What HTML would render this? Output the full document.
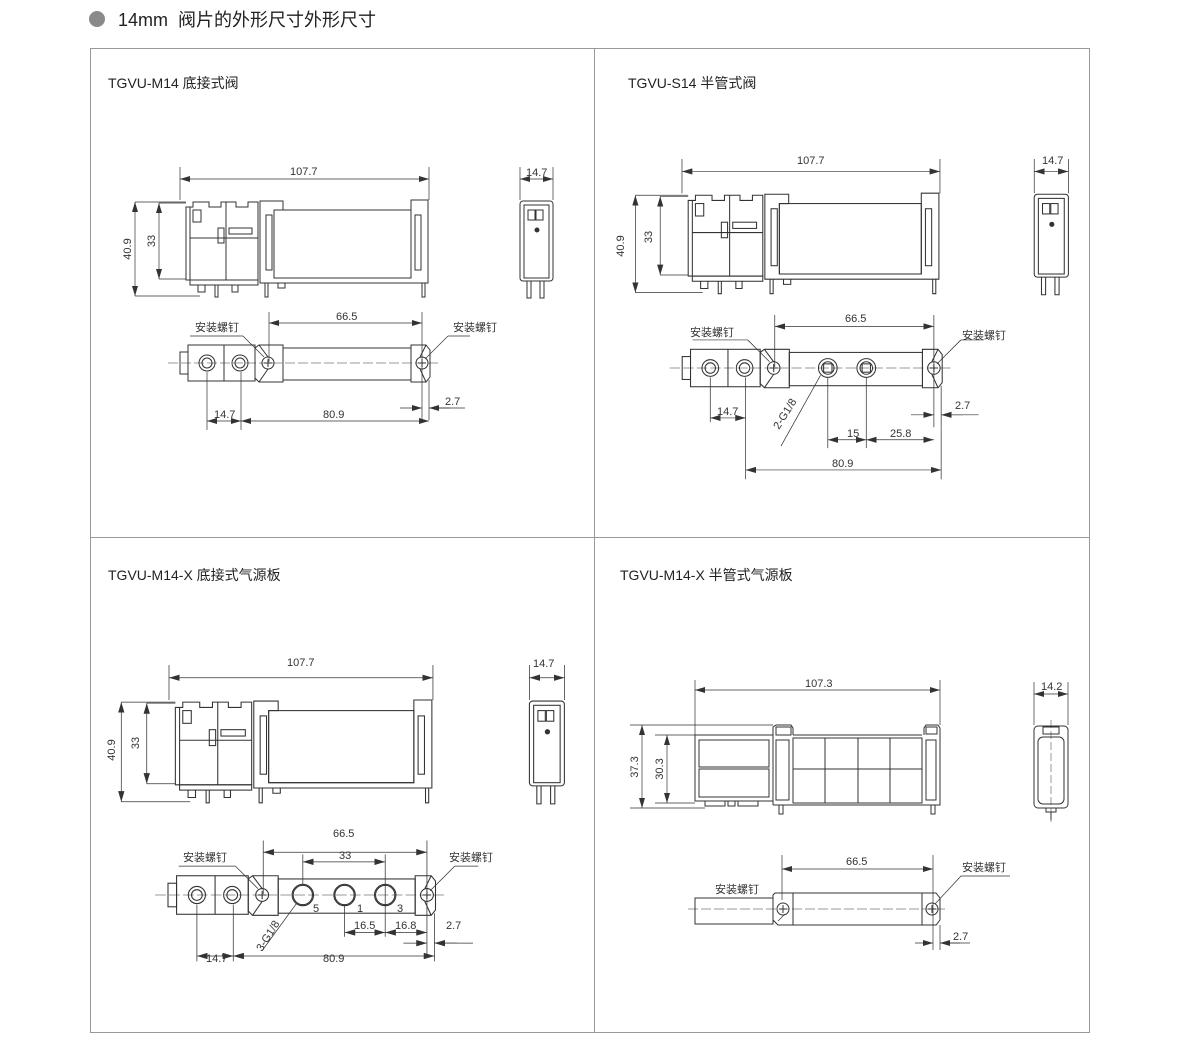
<!DOCTYPE html>
<html><head><meta charset="utf-8"><style>
body{margin:0;background:#fff;width:1200px;height:1056px;overflow:hidden}
svg{display:block}
text{font-family:"Liberation Sans","Noto Sans CJK SC",sans-serif;fill:#333}
.t{font-size:11px}
.h{font-size:14px;fill:#222}
</style></head><body>
<svg width="1200" height="1056" viewBox="0 0 1200 1056" xmlns="http://www.w3.org/2000/svg">
<defs>
<marker id="a" viewBox="0 0 10 6" refX="10" refY="3" markerWidth="10" markerHeight="6" orient="auto-start-reverse" markerUnits="userSpaceOnUse"><path d="M0,0L10,3L0,6z" fill="#333"/></marker>
<g id="side" fill="none" stroke="#333" stroke-width="1">
 <path d="M186,280V207H193V202H209V207H221V202H236V207H248V202H258V280Z"/>
 <line x1="190" y1="207" x2="190" y2="280"/><line x1="226" y1="202" x2="226" y2="280"/>
 <line x1="190" y1="238" x2="258" y2="238"/>
 <rect x="218" y="228" width="6" height="15"/><rect x="229" y="228" width="23" height="6"/>
 <rect x="193" y="210" width="8" height="12"/>
 <rect x="190" y="280" width="68" height="5"/>
 <path d="M198,285V292H205V285M215,285V297H218V285M232,285V292H238V285"/>
 <path d="M260,283V201H283V210H274V278H411V210H411V200H428V283Z"/>
 <rect x="274" y="210" width="137" height="68"/>
 <rect x="266" y="215" width="6" height="55"/><rect x="415" y="215" width="6" height="55"/>
 <path d="M265,283V297H268V283M422,283V297H425V283M278,283V288H285V283"/>
 <rect x="520" y="201" width="33" height="80" rx="3"/>
 <rect x="524" y="205" width="25" height="73"/>
 <rect x="528" y="210" width="7" height="10"/><rect x="536" y="210" width="7" height="10"/>
 <circle cx="537" cy="230" r="2" fill="#333"/>
 <path d="M527,281V298H531V281M540,281V298H544V281"/>
 <g stroke-width="0.7">
 <path d="M180,167V200M429,167V200M135,202H186M135,296H200M159,203H186M159,279H186M520,167V200M553,167V200"/>
 <line x1="180" y1="179" x2="429" y2="179" marker-start="url(#a)" marker-end="url(#a)"/>
 <line x1="135" y1="202" x2="135" y2="296" marker-start="url(#a)" marker-end="url(#a)"/>
 <line x1="159" y1="203" x2="159" y2="279" marker-start="url(#a)" marker-end="url(#a)"/>
 <line x1="520" y1="179" x2="553" y2="179" marker-start="url(#a)" marker-end="url(#a)"/>
 </g>
</g>
<g id="top" fill="none" stroke="#333" stroke-width="1">
 <rect x="180" y="352" width="8" height="22"/>
 <rect x="188" y="345" width="67" height="36"/><line x1="224" y1="345" x2="224" y2="381"/>
 <circle cx="207" cy="363" r="8"/><circle cx="207" cy="363" r="5"/>
 <circle cx="240" cy="363" r="8"/><circle cx="240" cy="363" r="5"/>
 <path d="M255,348L259,345H283V382H259L255,378Z"/><path d="M259,345L268,357M259,382L268,369"/>
 <rect x="283" y="348" width="128" height="32"/>
 <path d="M411,345H426L430,350V377L426,382H411Z"/><path d="M426,345L420,357M426,382L420,369"/>
 <circle cx="268" cy="363" r="6"/><path d="M264,363H272M268,359V367"/>
 <circle cx="422" cy="363" r="6"/><path d="M418,363H426M422,359V367"/>
 <line x1="168" y1="363" x2="438" y2="363" stroke-width="0.5" stroke-dasharray="10 3"/>
 <g stroke-width="0.7">
 <path d="M269,312V362M422,312V420M243,336H190M448,336H470"/>
 <path d="M243,336L264,357M448,336L425,359"/>
 <line x1="269" y1="323" x2="422" y2="323" marker-start="url(#a)" marker-end="url(#a)"/>
 <line x1="400" y1="408" x2="422" y2="408" marker-end="url(#a)"/><line x1="450" y1="408" x2="429" y2="408" marker-end="url(#a)"/>
 <path d="M429,380V420M429,408H465"/>
 </g>
</g>
</defs>

<circle cx="97" cy="19" r="8" fill="#8a8a8a"/>
<text x="118" y="26" style="font-size:18px;fill:#222">14mm&#160; 阀片的外形尺寸外形尺寸</text>
<rect x="90.5" y="48.5" width="999" height="984" fill="none" stroke="#999"/>
<line x1="594.5" y1="48" x2="594.5" y2="1033" stroke="#999"/>
<line x1="90" y1="537.5" x2="1090" y2="537.5" stroke="#999"/>

<text class="h" x="108" y="88">TGVU-M14 底接式阀</text>
<text class="h" x="628" y="88">TGVU-S14 半管式阀</text>
<text class="h" x="108" y="580">TGVU-M14-X 底接式气源板</text>
<text class="h" x="620" y="580">TGVU-M14-X 半管式气源板</text>

<!-- Panel 1 -->
<use href="#side"/>
<text class="t" x="290" y="175">107.7</text><text class="t" x="526" y="176">14.7</text>
<text class="t" transform="translate(131,249) rotate(-90)" text-anchor="middle">40.9</text>
<text class="t" transform="translate(155,241) rotate(-90)" text-anchor="middle">33</text>
<use href="#top"/>
<text class="t" x="336" y="320">66.5</text>
<text class="t" x="195" y="331">安装螺钉</text><text class="t" x="453" y="331">安装螺钉</text>
<text class="t" x="445" y="405">2.7</text>
<g stroke="#333" stroke-width="0.7" fill="none">
<path d="M207,372V430M241,372V430"/>
<line x1="207" y1="421" x2="241" y2="421" marker-start="url(#a)" marker-end="url(#a)"/>
<line x1="241" y1="421" x2="429" y2="421" marker-start="url(#a)" marker-end="url(#a)"/>
</g>
<text class="t" x="214" y="418">14.7</text><text class="t" x="323" y="418">80.9</text>

<!-- Panel 2 -->
<g transform="matrix(1.036,0,0,1.036,495.5,-14)"><use href="#side"/></g>
<text class="t" x="797" y="164">107.7</text><text class="t" x="1042" y="164">14.7</text>
<text class="t" transform="translate(624,246) rotate(-90)" text-anchor="middle">40.9</text>
<text class="t" transform="translate(652,237) rotate(-90)" text-anchor="middle">33</text>
<g transform="matrix(1.04,0,0,1.04,495,-9.5)"><use href="#top"/>
<g fill="none" stroke="#333">
<circle cx="320" cy="363" r="9"/><circle cx="320" cy="363" r="6"/><rect x="316" y="359" width="8" height="8"/>
<circle cx="357" cy="363" r="9"/><circle cx="357" cy="363" r="6"/><rect x="353" y="359" width="8" height="8"/>
<g stroke-width="0.7">
<path d="M207,372V415M241,372V470M320,372V440M357,372V440M313,370L275,438"/>
<line x1="207" y1="411" x2="241" y2="411" marker-start="url(#a)" marker-end="url(#a)"/>
<line x1="320" y1="432" x2="357" y2="432" marker-start="url(#a)" marker-end="url(#a)"/>
<line x1="357" y1="432" x2="422" y2="432" marker-start="url(#a)" marker-end="url(#a)"/>
<path d="M429,420V470"/>
<line x1="241" y1="461" x2="429" y2="461" marker-start="url(#a)" marker-end="url(#a)"/>
</g></g></g>
<text class="t" x="845" y="322">66.5</text>
<text class="t" x="690" y="336">安装螺钉</text><text class="t" x="962" y="339">安装螺钉</text>
<text class="t" x="955" y="409">2.7</text>
<text class="t" x="717" y="415">14.7</text>
<text class="t" transform="translate(779,430) rotate(-58)">2-G1/8</text>
<text class="t" x="847" y="437">15</text><text class="t" x="890" y="437">25.8</text>
<text class="t" x="832" y="467">80.9</text>

<!-- Panel 3 -->
<g transform="matrix(1.06,0,0,1.06,-21.8,488)"><use href="#side"/></g>
<text class="t" x="287" y="666">107.7</text><text class="t" x="533" y="667">14.7</text>
<text class="t" transform="translate(115,750) rotate(-90)" text-anchor="middle">40.9</text>
<text class="t" transform="translate(139,743) rotate(-90)" text-anchor="middle">33</text>
<g transform="matrix(1.07,0,0,1.07,-24.6,506.6)"><use href="#top"/>
<g fill="none" stroke="#333">
<circle cx="306" cy="363" r="10"/><circle cx="306" cy="363" r="9"/>
<circle cx="345" cy="363" r="10"/><circle cx="345" cy="363" r="9"/>
<circle cx="383" cy="363" r="10"/><circle cx="383" cy="363" r="9"/>
<g stroke-width="0.7">
<path d="M306,325V353M345,372V402M383,325V402M207,372V425M241,372V425M429,420V425M300,371L268,415"/>
<line x1="306" y1="332" x2="383" y2="332" marker-start="url(#a)" marker-end="url(#a)"/>
<line x1="345" y1="398" x2="383" y2="398" marker-start="url(#a)" marker-end="url(#a)"/>
<line x1="383" y1="398" x2="422" y2="398" marker-start="url(#a)" marker-end="url(#a)"/>
<line x1="207" y1="420" x2="241" y2="420" marker-start="url(#a)" marker-end="url(#a)"/>
<line x1="241" y1="420" x2="429" y2="420" marker-start="url(#a)" marker-end="url(#a)"/>
</g></g></g>
<text class="t" x="333" y="837">66.5</text><text class="t" x="339" y="859">33</text>
<text class="t" x="183" y="861">安装螺钉</text><text class="t" x="449" y="861">安装螺钉</text>
<text class="t" x="313" y="912">5</text><text class="t" x="357" y="912">1</text><text class="t" x="397" y="912">3</text>
<text class="t" x="354" y="929">16.5</text><text class="t" x="395" y="929">16.8</text><text class="t" x="446" y="929">2.7</text>
<text class="t" transform="translate(262,952) rotate(-58)">3-G1/8</text>
<text class="t" x="206" y="962">14.7</text><text class="t" x="323" y="962">80.9</text>

<!-- Panel 4 -->
<g fill="none" stroke="#333">
<rect x="695" y="735" width="78" height="66"/>
<rect x="699" y="740" width="70" height="27"/><rect x="699" y="769" width="70" height="28"/>
<path d="M773,805V727L776,725H791L793,728V735M793,735H922M924,735V728L926,725H938L940,728V805H773"/>
<rect x="793" y="738" width="129" height="65"/>
<path d="M825,738V803M858,738V803M890,738V803M793,769H922"/>
<rect x="776" y="740" width="13" height="60"/><rect x="926" y="740" width="10" height="60"/>
<rect x="776" y="727" width="15" height="8"/><rect x="926" y="727" width="11" height="7"/>
<path d="M705,801V806H725V801M728,801V806H735V801M738,801V806H758V801"/>
<path d="M779,805V814H783V805M931,805V814H935V805"/>
<rect x="1034" y="726" width="34" height="82" rx="4"/>
<rect x="1038" y="737" width="26" height="67" rx="5"/><rect x="1043" y="727" width="16" height="7"/>
<path d="M1046,808V812H1056V808M1051,812V820"/>
<line x1="1051" y1="720" x2="1051" y2="822" stroke-width="0.5" stroke-dasharray="8 3"/>
<g stroke-width="0.7">
<path d="M695,680V735M940,680V725M630,725H773M655,735H695M655,803H695M630,808H705M1034,682V725M1068,682V725"/>
<line x1="695" y1="690" x2="940" y2="690" marker-start="url(#a)" marker-end="url(#a)"/>
<line x1="642" y1="725" x2="642" y2="808" marker-start="url(#a)" marker-end="url(#a)"/>
<line x1="667" y1="735" x2="667" y2="803" marker-start="url(#a)" marker-end="url(#a)"/>
<line x1="1034" y1="694" x2="1068" y2="694" marker-start="url(#a)" marker-end="url(#a)"/>
</g>
<rect x="695" y="898" width="78" height="26"/>
<path d="M773,895L775,893H793V925H778L773,920Z"/>
<rect x="793" y="893" width="129" height="32"/>
<path d="M922,893H936L940,898V920L936,925H922Z"/>
<circle cx="783" cy="909" r="6"/><path d="M779,909H787M783,905V913"/>
<circle cx="932" cy="909" r="6"/><path d="M928,909H936M932,905V913"/>
<line x1="688" y1="909" x2="948" y2="909" stroke-width="0.5" stroke-dasharray="10 3"/>
<g stroke-width="0.7">
<path d="M782,855V900M933,855V950M940,925V950M1010,876H961L935,904M778,921L785,914"/>
<line x1="782" y1="869" x2="933" y2="869" marker-start="url(#a)" marker-end="url(#a)"/>
<line x1="915" y1="943" x2="933" y2="943" marker-end="url(#a)"/><line x1="960" y1="943" x2="940" y2="943" marker-end="url(#a)"/>
<path d="M940,943H970"/>
</g></g>
<text class="t" x="805" y="687">107.3</text><text class="t" x="1041" y="690">14.2</text>
<text class="t" transform="translate(638,767) rotate(-90)" text-anchor="middle">37.3</text>
<text class="t" transform="translate(663,769) rotate(-90)" text-anchor="middle">30.3</text>
<text class="t" x="846" y="865">66.5</text>
<text class="t" x="962" y="871">安装螺钉</text><text class="t" x="715" y="893">安装螺钉</text>
<text class="t" x="953" y="940">2.7</text>
</svg>
</body></html>
